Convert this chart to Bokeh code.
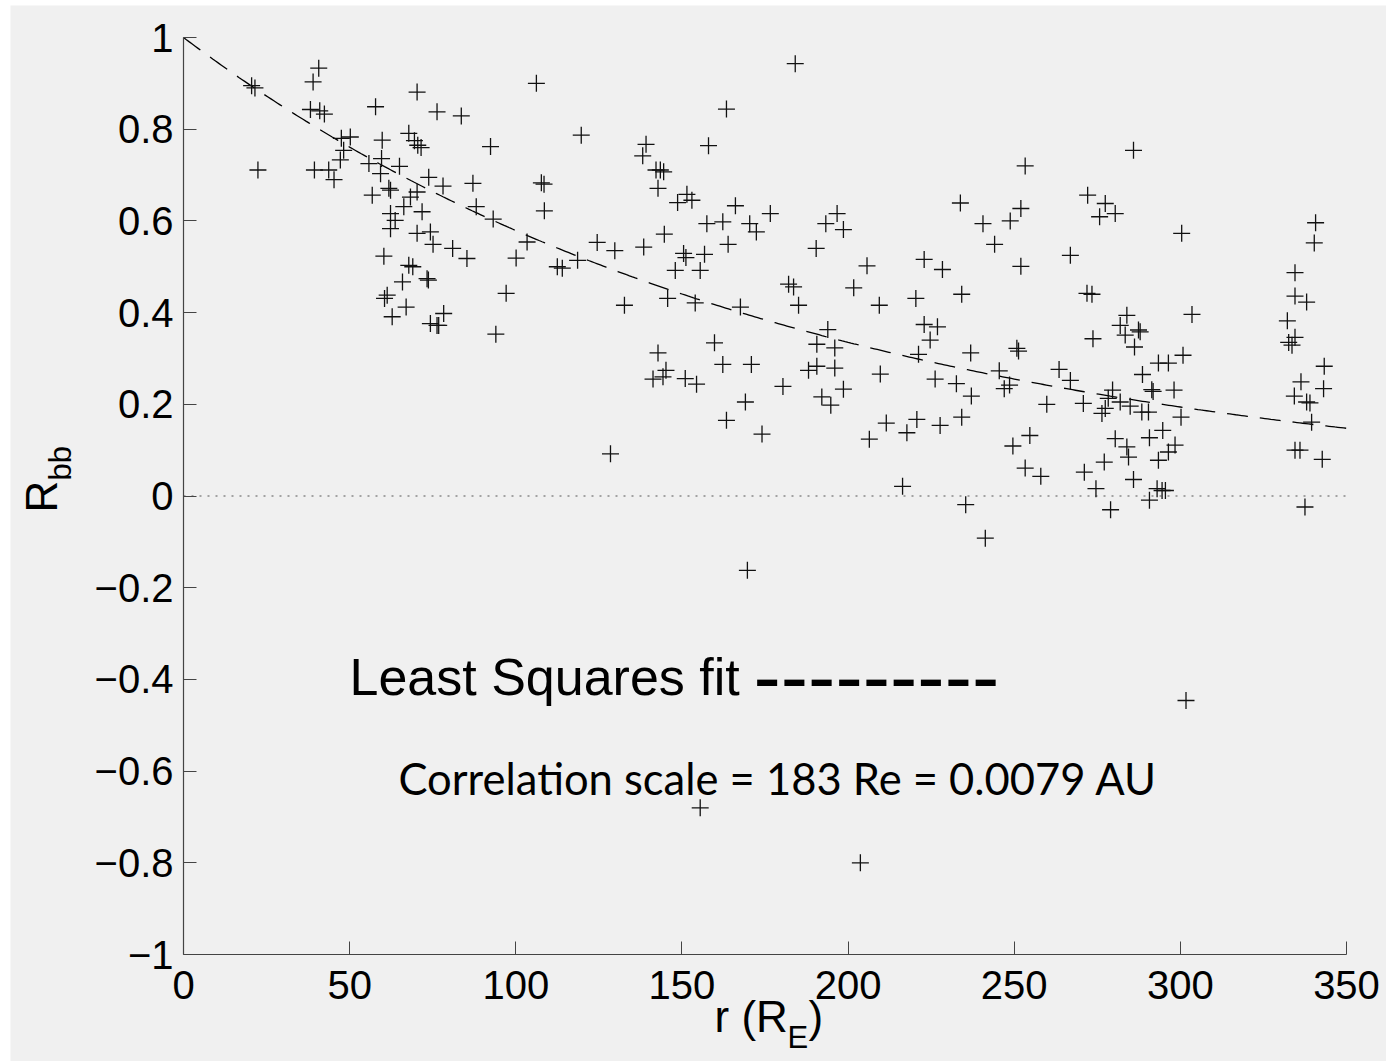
import numpy as np
from bokeh.plotting import figure
from bokeh.models import Label, Range1d, FixedTicker, CustomJSTickFormatter
from bokeh.embed import file_html
from bokeh.resources import INLINE

# separation r (Earth radii) and correlation coefficient R_bb for each spacecraft pair
r_re = [40.7, 39.0, 20.5, 21.5, 70.3, 57.8, 76.3, 83.6, 38.2, 41.0, 42.4, 47.5, 50.2, 48.2, 47.2,
        59.8, 67.8, 69.5, 70.5, 71.5, 59.6, 55.8, 65.0, 59.3, 22.4, 39.4, 43.7, 45.3, 73.8, 78.1,
        87.1, 88.1, 61.8, 62.3, 56.8, 70.3, 68.3, 62.3, 66.3, 63.7, 71.8, 62.3, 70.3, 74.3, 75.1,
        81.0, 85.3, 60.3, 67.8, 69.0, 73.3, 73.7, 65.9, 61.3, 60.5, 67.0, 62.8, 78.3, 74.3, 76.3,
        76.8,
        106.2, 163.4, 119.7, 92.4, 139.2, 138.2, 158.0, 142.2, 143.5, 144.5, 142.8, 107.7, 108.5,
        108.6, 93.2, 103.4, 100.1, 112.5, 114.0, 118.6, 124.5, 129.8, 138.5, 144.7, 151.5, 153.0,
        148.7, 166.1, 157.5, 162.3, 170.4, 172.4, 176.6, 163.9, 150.5, 151.2, 156.8, 148.0, 155.5,
        97.1, 94.0, 132.7, 145.7, 154.0, 167.6, 159.8, 142.8, 145.2, 144.3, 141.3, 151.0, 154.4,
        162.3, 170.9, 169.1, 163.4, 174.1, 128.5, 180.4,
        184.1, 253.3, 233.8, 252.0, 248.8, 240.6, 244.1, 252.0, 266.9, 196.7, 193.3, 198.6, 190.4,
        205.7, 222.9, 228.4, 201.7, 182.1, 183.6, 234.2, 185.1, 209.4, 220.4, 193.9, 190.6, 196.0,
        188.1, 190.6, 196.0, 198.6, 192.1, 194.8, 209.7, 222.9, 226.9, 224.7, 221.2, 236.9, 226.2,
        232.6, 237.1, 245.5, 250.8, 251.3, 248.6, 247.0, 263.5, 266.9, 259.8, 211.5, 206.4, 217.7,
        220.7, 227.7, 234.2, 249.6, 254.7, 253.3, 258.0, 216.4, 235.4,
        285.9, 272.1, 277.4, 280.4, 275.7, 300.4, 340.7, 340.3, 334.5, 271.9, 273.4, 303.5, 283.9,
        281.9, 283.4, 287.4, 287.9, 273.7, 286.2, 300.8, 293.4, 296.4, 288.6, 291.4, 291.8, 298.1,
        279.6, 278.3, 281.9, 284.9, 277.4, 276.4, 288.4, 290.4, 300.2, 270.8, 294.7, 290.7, 280.4,
        283.9, 284.4, 298.4, 296.4, 293.4, 277.1, 285.9, 274.6, 293.0, 294.5, 295.5, 290.7, 279.0,
        271.1,
        334.5, 338.0, 332.2, 334.5, 332.6, 333.6, 343.3, 336.3, 343.1, 334.3, 338.0, 339.0, 339.5,
        334.5, 336.0, 342.7, 337.5,
        169.7, 155.5, 203.7, 301.7, 241.3]

r_bb = [0.933, 0.903, 0.895, 0.890, 0.881, 0.849, 0.838, 0.829, 0.843, 0.840, 0.833, 0.780, 0.783,
        0.754, 0.733, 0.776, 0.791, 0.775, 0.765, 0.760, 0.736, 0.725, 0.719, 0.703, 0.711, 0.711,
        0.711, 0.690, 0.695, 0.676, 0.682, 0.631, 0.671, 0.667, 0.656, 0.663, 0.652, 0.616, 0.631,
        0.601, 0.620, 0.583, 0.573, 0.576, 0.549, 0.540, 0.518, 0.523, 0.503, 0.500, 0.474, 0.471,
        0.467, 0.438, 0.431, 0.412, 0.391, 0.398, 0.376, 0.372, 0.372,
        0.900, 0.844, 0.787, 0.762, 0.767, 0.742, 0.764, 0.711, 0.711, 0.707, 0.671, 0.683, 0.680,
        0.622, 0.604, 0.554, 0.519, 0.500, 0.497, 0.514, 0.553, 0.535, 0.543, 0.571, 0.658, 0.645,
        0.640, 0.633, 0.594, 0.598, 0.594, 0.576, 0.616, 0.549, 0.529, 0.520, 0.527, 0.492, 0.492,
        0.442, 0.353, 0.416, 0.431, 0.421, 0.412, 0.334, 0.312, 0.274, 0.260, 0.255, 0.256, 0.244,
        0.287, 0.287, 0.205, 0.165, 0.135, 0.092, 0.239,
        0.943, 0.720, 0.639, 0.627, 0.600, 0.594, 0.549, 0.501, 0.525, 0.616, 0.594, 0.581, 0.540,
        0.502, 0.516, 0.494, 0.454, 0.462, 0.456, 0.440, 0.416, 0.416, 0.431, 0.363, 0.331, 0.323,
        0.274, 0.283, 0.279, 0.233, 0.216, 0.198, 0.266, 0.374, 0.369, 0.340, 0.309, 0.312, 0.255,
        0.245, 0.218, 0.273, 0.322, 0.316, 0.242, 0.234, 0.276, 0.252, 0.200, 0.159, 0.124, 0.138,
        0.167, 0.154, 0.172, 0.109, 0.132, 0.061, 0.043, 0.021, -0.019,
        0.754, 0.656, 0.638, 0.616, 0.609, 0.573, 0.596, 0.552, 0.487, 0.442, 0.440, 0.396, 0.394,
        0.372, 0.351, 0.362, 0.358, 0.343, 0.325, 0.307, 0.290, 0.290, 0.265, 0.232, 0.228, 0.231,
        0.231, 0.213, 0.205, 0.196, 0.191, 0.180, 0.183, 0.183, 0.172, 0.202, 0.143, 0.127, 0.125,
        0.107, 0.085, 0.111, 0.096, 0.078, 0.074, 0.036, 0.016, 0.016, 0.012, 0.012, -0.009, -0.030,
        0.052,
        0.436, 0.423, 0.382, 0.346, 0.335, 0.329, 0.283, 0.249, 0.234, 0.218, 0.205, 0.203, 0.161,
        0.100, 0.100, 0.080, -0.024,
        -0.162, -0.680, -0.800, -0.446, -0.092]

# fitted correlation scale
corr_scale_re = 183.0
corr_scale_au = 0.0079

x_ticks = [0, 50, 100, 150, 200, 250, 300, 350]
y_ticks = [-1, -0.8, -0.6, -0.4, -0.2, 0, 0.2, 0.4, 0.6, 0.8, 1]
x_lim = (0, 350)
y_lim = (-1, 1)

BG = "#f0f0f0"
AX = "#444444"
SANS = "Liberation Sans"

# canvas geometry (pixels) -- the axes box sits inside a canvas-wide frame
W, H = 1376, 1056
OFF_X, OFF_Y = 10, 5                      # page offset of the canvas
BOX_L, BOX_R, BOX_T, BOX_B = 183, 1346, 37, 954   # axes box in page pixels
sx = (BOX_R - BOX_L) / (x_lim[1] - x_lim[0])
sy = (BOX_B - BOX_T) / (y_lim[1] - y_lim[0])


def dx(px):
    return x_lim[0] + (px - BOX_L) / sx


def dy(py):
    return y_lim[1] - (py - BOX_T) / sy


p = figure(width=W, height=H, margin=(OFF_Y, 0, 0, OFF_X),
           x_range=Range1d(dx(OFF_X), dx(OFF_X + W)),
           y_range=Range1d(dy(OFF_Y + H), dy(OFF_Y)),
           output_backend="svg", toolbar_location=None,
           background_fill_color=BG, border_fill_color=BG,
           min_border_left=0, min_border_right=0,
           min_border_top=0, min_border_bottom=0)
p.outline_line_color = None
p.grid.visible = False

p.xaxis.fixed_location = y_lim[0]
p.xaxis.bounds = x_lim
p.yaxis.fixed_location = x_lim[0]
p.yaxis.bounds = y_lim

for ax in (p.xaxis[0], p.yaxis[0]):
    ax.axis_line_color = AX
    ax.axis_line_width = 1.2
    ax.major_tick_line_color = AX
    ax.major_tick_in = 13
    ax.major_tick_out = 0
    ax.minor_tick_line_color = None
    ax.major_label_text_font = SANS
    ax.major_label_text_font_size = "40px"
    ax.major_label_text_color = "black"

p.xaxis.ticker = FixedTicker(ticks=x_ticks)
p.yaxis.ticker = FixedTicker(ticks=y_ticks)
p.xaxis.major_label_standoff = 16
p.yaxis.major_label_standoff = 10
p.yaxis.formatter = CustomJSTickFormatter(
    code="const v = Math.round(tick*10)/10; return v < 0 ? '\u2212' + (-v).toString() : v.toString();")

# zero reference
p.line(list(x_lim), [0, 0], line_color="#555555", line_width=1.2, line_dash="2 6")

# least squares exponential fit exp(-r / L)
rr = np.linspace(x_lim[0], x_lim[1], 400)
p.line(rr, np.exp(-rr / corr_scale_re), line_color="black", line_width=1.3, line_dash="21 12")

# measurements
p.scatter(r_re, r_bb, marker="cross", size=17, line_color="#111111", line_width=1.3)


def lab(text, px, py, size, font=SANS, angle=0.0):
    p.add_layout(Label(x=dx(px), y=dy(py), text=text, angle=angle,
                       text_font=font, text_font_size=f"{size}px", text_color="black",
                       text_align="left", text_baseline="alphabetic"))


# axis titles with subscripts
lab("r (R", 714, 1016, 44)
lab("E", 787, 1037, 31)
lab(")", 808, 1016, 44)
lab("R", 41, 512, 44, angle=np.pi / 2)
lab("bb", 60, 480, 31, angle=np.pi / 2)

# fit legend and result
lab("Least Squares fit", 349, 676, 52)
lab("---------", 753, 676, 82)
lab(f"Correlation scale = {corr_scale_re:.0f} Re = {corr_scale_au} AU", 398, 777, 43.5, font="Lato")

open("out.html", "w").write(file_html(p, INLINE))
